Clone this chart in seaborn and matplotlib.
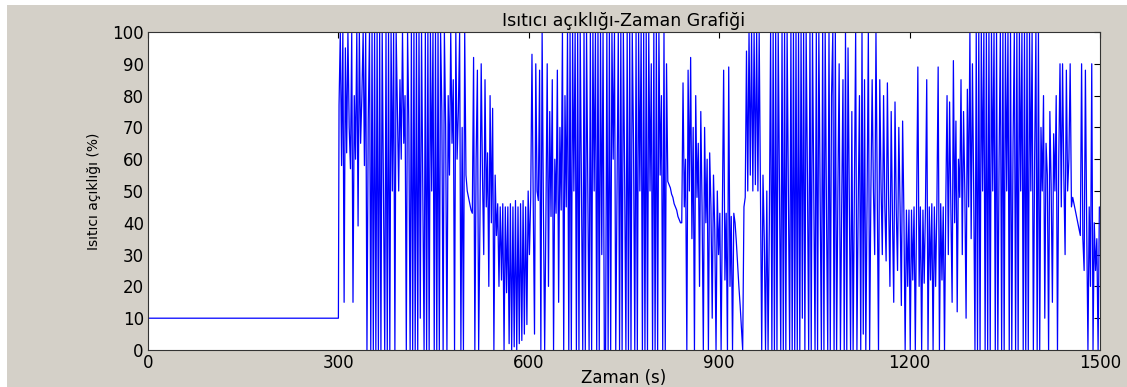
import numpy as np
import pandas as pd
import matplotlib
matplotlib.use("Agg")
import matplotlib.pyplot as plt
from matplotlib.patches import Rectangle
import seaborn as sns

# --- data -------------------------------------------------------------
title = "Isıtıcı açıklığı-Zaman Grafiği"
xlabel = "Zaman (s)"
ylabel = "Isıtıcı açıklığı (%)"
x_ticks = [0, 300, 600, 900, 1200, 1500]
y_ticks = [0, 10, 20, 30, 40, 50, 60, 70, 80, 90, 100]

# constant pre-heating part
t_const = [0, 300]
v_const = [10, 10]

# sampled controller output, 2 s apart, starting at t = 301 s (one list per minute)
seg_300 = [77, 100, 58, 100, 15, 95, 62, 100, 70, 57, 100, 15, 80, 60, 100, 39, 100, 65, 80, 100, 58, 100, 0, 72, 100, 0, 100, 0, 100, 0]
seg_360 = [100, 0, 100, 0, 100, 50, 0, 100, 0, 100, 0, 100, 50, 100, 0, 100, 75, 50, 85, 60, 100, 65, 80, 0, 100, 70, 0, 100, 0, 100]
seg_420 = [0, 100, 0, 100, 10, 100, 50, 0, 100, 0, 100, 0, 100, 50, 100, 0, 100, 0, 100, 0, 100, 75, 0, 100, 70, 0, 80, 55, 100, 65]
seg_480 = [85, 0, 100, 60, 75, 100, 0, 70, 0, 100, 55, 50, 48, 46, 44, 43, 92, 0, 60, 88, 0, 40, 90, 55, 30, 85, 45, 62, 20, 80]
seg_540 = [40, 76, 0, 55, 36, 46, 20, 45, 22, 46, 0, 45, 18, 45, 2, 46, 0, 45, 1, 47, 0, 45, 2, 46, 3, 47, 5, 45, 8, 50]
seg_600 = [30, 48, 93, 46, 5, 90, 50, 47, 88, 0, 100, 45, 0, 43, 90, 20, 75, 42, 85, 0, 60, 43, 88, 15, 70, 44, 100, 0, 80, 45]
seg_660 = [100, 0, 100, 0, 100, 50, 100, 0, 100, 0, 100, 50, 0, 100, 0, 100, 50, 0, 100, 0, 100, 50, 100, 0, 100, 0, 100, 30, 100, 0]
seg_720 = [0, 100, 0, 100, 0, 100, 60, 100, 0, 50, 100, 0, 100, 0, 100, 55, 0, 100, 0, 100, 0, 100, 65, 0, 100, 0, 100, 50, 100, 0]
seg_780 = [100, 0, 100, 0, 100, 50, 90, 0, 100, 0, 100, 0, 100, 55, 80, 0, 100, 0, 90, 53, 52, 51, 49, 48, 46, 45, 44, 42, 41, 40]
seg_840 = [40, 84, 45, 60, 0, 88, 50, 92, 35, 70, 0, 80, 48, 65, 20, 75, 45, 0, 70, 40, 60, 0, 62, 45, 10, 55, 38, 0, 50, 30]
seg_900 = [43, 0, 44, 88, 22, 43, 0, 89, 20, 42, 0, 43, 40, 34, 27, 20, 14, 7, 0, 45, 48, 94, 50, 100, 55, 100, 50, 100, 52, 100]
seg_960 = [50, 100, 48, 0, 55, 35, 0, 50, 0, 40, 100, 0, 100, 0, 100, 0, 100, 50, 0, 100, 0, 100, 0, 100, 50, 0, 100, 0, 100, 0]
seg_1020 = [100, 0, 100, 0, 100, 10, 100, 0, 100, 55, 0, 100, 0, 100, 50, 0, 100, 0, 100, 50, 0, 100, 0, 100, 45, 0, 100, 0, 80, 100]
seg_1080 = [0, 100, 0, 50, 90, 0, 45, 85, 0, 100, 0, 95, 48, 0, 75, 0, 50, 100, 0, 45, 80, 0, 100, 5, 85, 0, 47, 100, 0, 50]
seg_1140 = [85, 50, 30, 100, 48, 0, 85, 52, 30, 80, 45, 28, 84, 46, 20, 75, 42, 15, 78, 44, 25, 70, 45, 14, 72, 43, 0, 44, 20, 44]
seg_1200 = [0, 44, 22, 45, 0, 44, 89, 20, 45, 0, 44, 21, 45, 85, 0, 45, 22, 46, 0, 45, 20, 46, 89, 0, 46, 22, 45, 0, 46, 80]
seg_1260 = [30, 78, 45, 15, 91, 40, 72, 12, 60, 48, 85, 30, 75, 50, 10, 82, 45, 100, 35, 90, 50, 0, 100, 0, 100, 0, 100, 50, 100, 0]
seg_1320 = [100, 0, 100, 0, 100, 50, 100, 0, 100, 0, 60, 100, 0, 100, 0, 100, 50, 100, 0, 100, 0, 65, 100, 0, 100, 0, 100, 50, 100, 0]
seg_1380 = [100, 0, 100, 0, 100, 50, 100, 0, 60, 100, 0, 100, 0, 70, 50, 80, 10, 65, 55, 0, 75, 52, 15, 68, 50, 80, 0, 60, 90, 45]
seg_1440 = [90, 55, 30, 88, 50, 60, 90, 45, 48, 46, 44, 42, 40, 38, 36, 90, 35, 25, 88, 40, 0, 45, 20, 90, 0, 40, 25, 35, 0, 45]

segments = [seg_300, seg_360, seg_420, seg_480, seg_540, seg_600, seg_660, seg_720,
            seg_780, seg_840, seg_900, seg_960, seg_1020, seg_1080, seg_1140,
            seg_1200, seg_1260, seg_1320, seg_1380, seg_1440]

v_osc = [v for s in segments for v in s]
t_osc = list(np.linspace(301, 1499, len(v_osc)))

df = pd.DataFrame({"t": t_const + t_osc, "v": v_const + v_osc})

# --- styling ----------------------------------------------------------
sns.set_style("white")
plt.rcParams["font.family"] = ["DejaVu Sans"]
plt.rcParams["text.color"] = "black"
plt.rcParams["axes.labelcolor"] = "black"

bg = "#d4d0c8"
fig = plt.figure(figsize=(11.27, 3.87), dpi=100, facecolor=bg)
ax = fig.add_axes([148 / 1127, 1 - 350 / 387, (1100 - 148) / 1127, (350 - 32) / 387])
ax.set_facecolor("white")

sns.lineplot(data=df, x="t", y="v", ax=ax, color="#0000ff", linewidth=0.9,
             estimator=None, sort=False, legend=False)

ax.set_xlim(0, 1500)
ax.set_ylim(0, 100)
ax.set_xticks(x_ticks)
ax.set_yticks(y_ticks)
ax.tick_params(direction="in", length=4, width=0.8, top=True, right=True,
               labelsize=12, colors="black", pad=3)
for sp in ax.spines.values():
    sp.set_visible(True)
    sp.set_color("#333333")
    sp.set_linewidth(0.8)

ax.set_title(title, fontsize=12.5, pad=4, color="black")
ax.set_xlabel(xlabel, fontsize=12, labelpad=-2, color="black")
ax.set_ylabel(ylabel, fontsize=10, labelpad=8, color="black")

# thin white strips at the window edge (top and left)
fig.add_artist(Rectangle((0, 1 - 5 / 387), 1, 5 / 387, transform=fig.transFigure,
                         facecolor="white", edgecolor="none"))
fig.add_artist(Rectangle((0, 0), 7 / 1127, 1, transform=fig.transFigure,
                         facecolor="white", edgecolor="none"))

fig.savefig("out.png", dpi=100, facecolor=bg)
